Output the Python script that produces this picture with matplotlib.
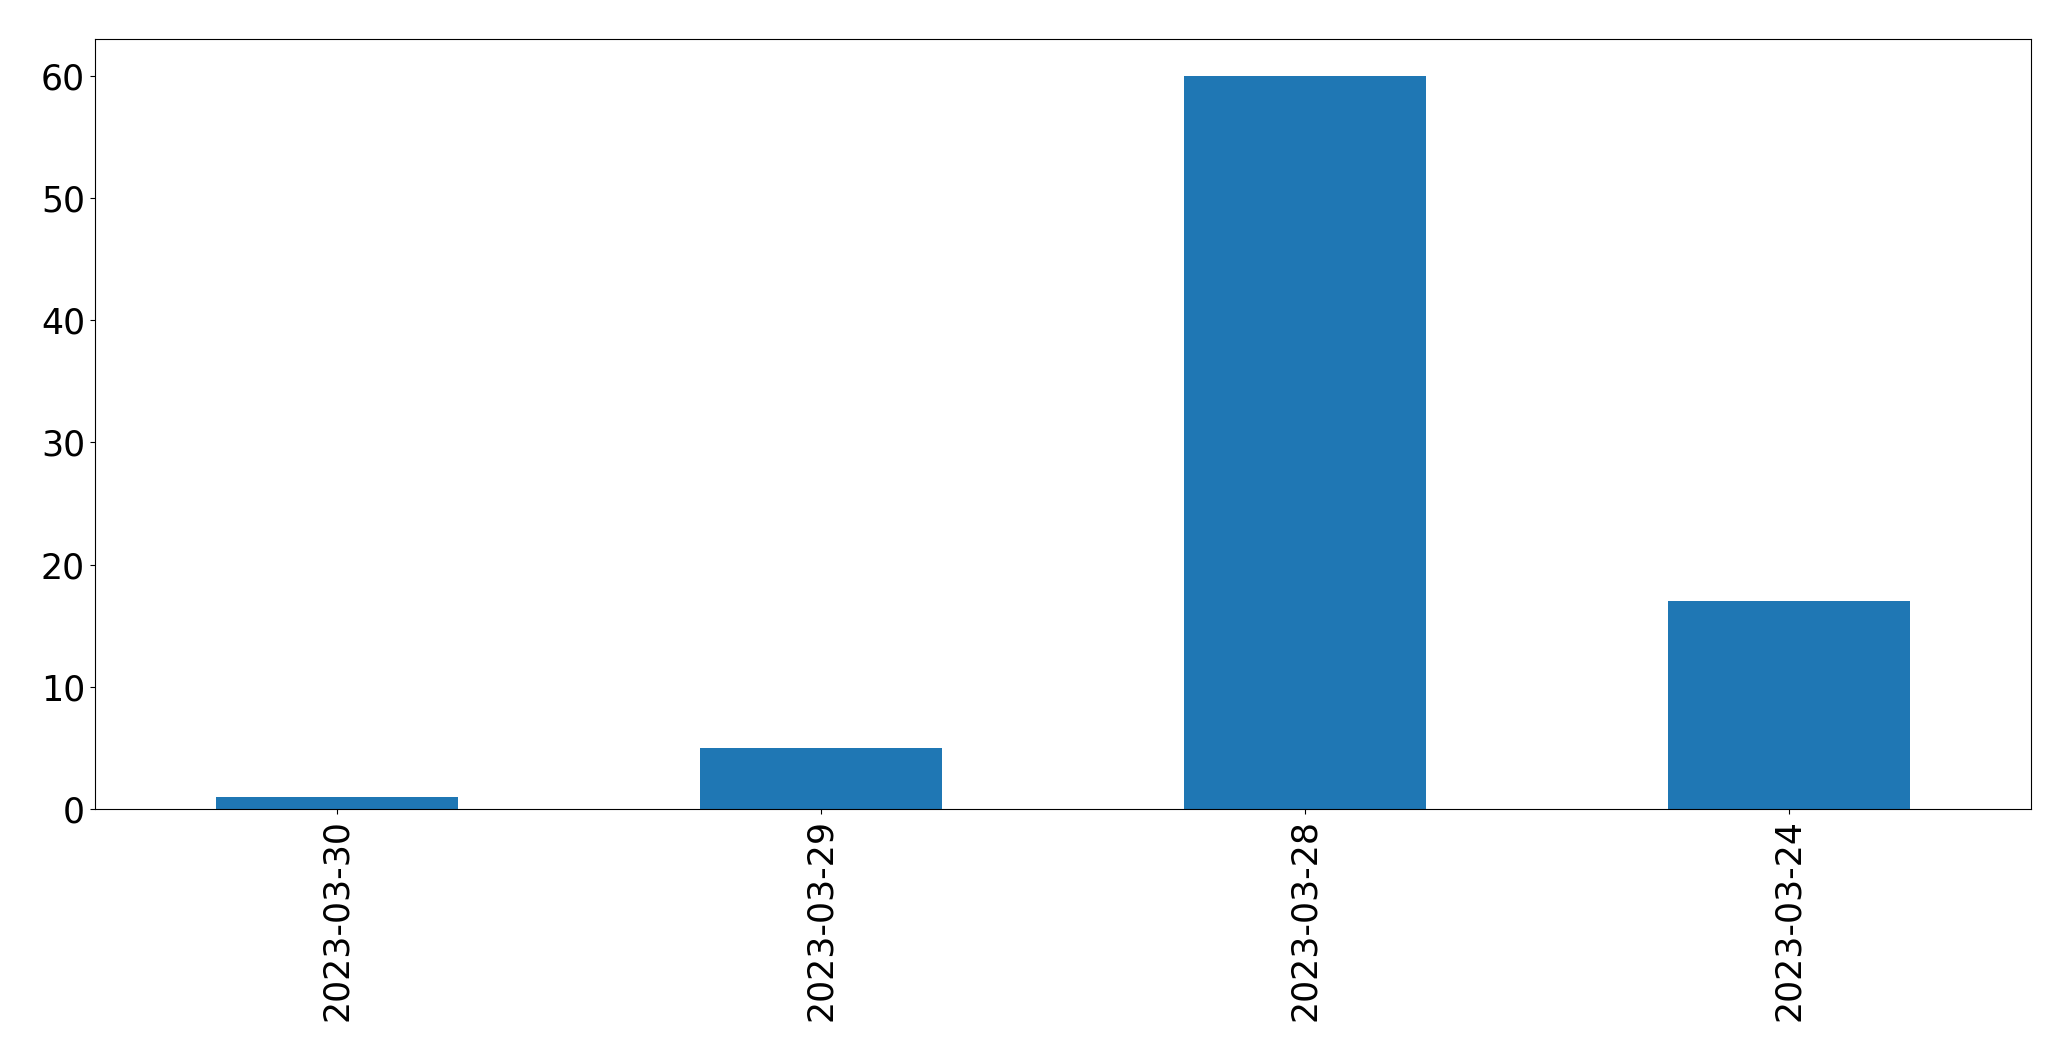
import pandas as pd
import matplotlib
matplotlib.use('Agg')
import matplotlib.pyplot as plt

dates = ['2023-03-30', '2023-03-29', '2023-03-28', '2023-03-24']
counts = [1, 5, 60, 17]

series = pd.Series(counts, index=dates)

fig = plt.figure(figsize=(20.71, 10.61), dpi=100)
ax = fig.add_axes([94.7 / 2071, 1 - 809 / 1061, (2031 - 94.7) / 2071, (809 - 39.3) / 1061])
series.plot(kind='bar', ax=ax, color='#1f77b4')
ax.tick_params(axis='both', labelsize=25)

fig.savefig('out.png', dpi=100)
